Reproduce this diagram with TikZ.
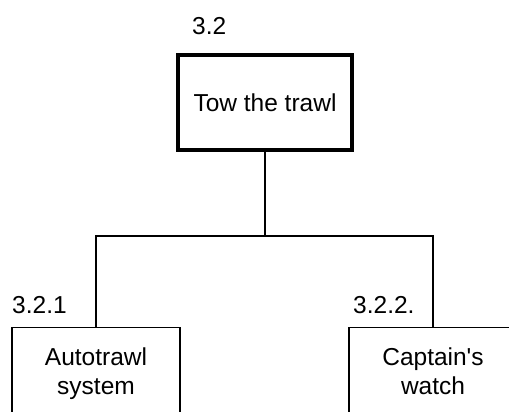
\documentclass[tikz,border=0pt]{standalone}
\usepackage{fontspec}
\setmainfont{Liberation Sans}
\begin{document}
\begin{tikzpicture}[x=1pt,y=-1pt,
  every node/.style={font=\fontsize{24.5}{29.5}\selectfont, text=black},
  topbox/.style={draw, line width=4pt, minimum width=174pt, minimum height=95pt, inner sep=0pt},
  subbox/.style={draw, line width=1.3pt, minimum width=168pt, text width=160pt, align=center, inner xsep=4pt, inner ysep=20pt, anchor=north},
  numlabel/.style={anchor=west, inner sep=0pt},
  link/.style={line width=1.3pt}]
  \useasboundingbox (0,0) rectangle (509,412);
  \clip (0,0) rectangle (509,412);
  \fill[white] (0,0) rectangle (509,412);

  % parent activity
  \node[topbox] (top) at (265,102.5) {Tow the trawl};
  \node[numlabel] (topnum) at (192,26) {3.2};

  % sub-activities
  \node[subbox] (left) at (96,327) {Autotrawl\\system};
  \node[numlabel] (leftnum) at (12,305) {3.2.1};
  \node[subbox] (right) at (433,327) {Captain\textquotesingle s\\watch};
  \node[numlabel] (rightnum) at (353,305) {3.2.2.};

  % tree connectors
  \coordinate (bus) at (265,236);
  \draw[link] (top.south) -- (bus);
  \draw[link] (left.north) |- (bus) -| (right.north);
\end{tikzpicture}
\end{document}
